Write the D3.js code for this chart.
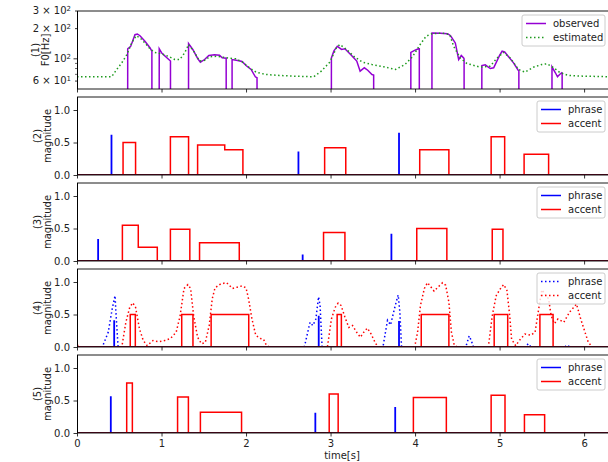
<!DOCTYPE html>
<html>
<head>
<meta charset="utf-8">
<script src="https://cdn.jsdelivr.net/npm/d3@7"></script>
<style>
  body { margin: 0; background: #fff; }
  svg { display: block; font-family: "DejaVu Sans", sans-serif; }
</style>
</head>
<body>
<div id="chart"></div>
<script>
// ---- data ----
// (1) F0 contours: [time s, Hz]; 0 means unvoiced
const observedF0 = [
  [0, 0], [0.598, 0], [0.600, 126], [0.635, 133], [0.686, 174], [0.714, 177], [0.745, 170], [0.804, 150], [0.863, 129], [0.886, 119], [0.888, 0],
  [0.971, 0], [0.973, 126], [1.0, 115], [1.05, 105], [1.106, 95], [1.108, 0],
  [1.318, 0], [1.32, 142], [1.37, 124], [1.43, 100], [1.46, 92.5], [1.51, 98.4], [1.56, 108], [1.627, 109.6], [1.686, 108.6], [1.718, 102.3], [1.765, 101.4], [1.767, 0],
  [1.833, 0], [1.835, 98.4], [1.90, 96.2], [1.953, 94], [2.0, 85.8], [2.06, 78.3], [2.11, 66.2], [2.13, 64.7], [2.132, 0],
  [3.008, 0], [3.01, 102], [3.04, 120], [3.08, 133], [3.13, 124], [3.17, 126], [3.24, 110], [3.31, 95], [3.35, 75.3], [3.40, 81.4], [3.44, 77], [3.49, 69.8], [3.51, 69], [3.512, 0],
  [3.948, 0], [3.95, 116], [4.0, 122], [4.04, 126], [4.05, 126], [4.052, 0],
  [4.198, 0], [4.20, 181], [4.30, 180], [4.385, 178], [4.42, 170], [4.476, 144], [4.516, 98.4], [4.547, 108], [4.575, 102], [4.58, 100], [4.582, 0],
  [4.788, 0], [4.79, 85.8], [4.83, 87.2], [4.89, 80], [4.93, 81.4], [5.0, 108], [5.03, 119], [5.06, 117], [5.106, 105], [5.165, 91.2], [5.22, 77], [5.228, 76], [5.23, 0],
  [5.618, 0], [5.62, 83.3], [5.66, 72.6], [5.685, 66.2], [5.71, 69.8], [5.736, 72.6], [5.74, 72], [5.742, 0], [6.33, 0]
];
const estimatedF0 = [
  [0, 66.2], [0.41, 66.2], [0.47, 78.3], [0.53, 91.2], [0.59, 110], [0.647, 144], [0.70, 170], [0.745, 162], [0.804, 144], [0.863, 126],
  [0.92, 116], [1.0, 112], [1.08, 106], [1.157, 98.4], [1.216, 98.4], [1.275, 115], [1.32, 139], [1.39, 116], [1.45, 95], [1.51, 96.5],
  [1.57, 105], [1.647, 106], [1.725, 104], [1.80, 101.4], [1.88, 100], [1.96, 92.5], [2.04, 81.4], [2.12, 73.6], [2.235, 69.8], [2.39, 68.3],
  [2.6, 67], [2.80, 66.2], [2.89, 75.3], [2.99, 92.5], [3.07, 129], [3.11, 139], [3.19, 124], [3.28, 105], [3.38, 92.5], [3.49, 87.8],
  [3.63, 83.3], [3.77, 78.3], [3.88, 87.8], [3.97, 105], [4.06, 139], [4.13, 168], [4.20, 178], [4.32, 181], [4.41, 174], [4.457, 133],
  [4.535, 102], [4.614, 89.8], [4.77, 82.5], [4.89, 84.5], [4.97, 102], [5.047, 116], [5.126, 102], [5.224, 78.3], [5.30, 73.6], [5.40, 82.5],
  [5.50, 87.8], [5.56, 89.2], [5.64, 81.4], [5.717, 72.6], [5.815, 68.3], [5.95, 67.3], [6.33, 66.2]
];

// phrase commands: [time, magnitude]; accent commands: [onset, offset, magnitude]
const phrase2 = [[0.408, 0.62], [2.62, 0.36], [3.81, 0.65]];
const accent2 = [[0.545, 0.693, 0.50], [1.105, 1.32, 0.59], [1.427, 1.748, 0.46], [1.748, 1.963, 0.39], [2.93, 3.18, 0.42], [4.055, 4.40, 0.39], [4.90, 5.06, 0.59], [5.29, 5.58, 0.32]];

const phrase3 = [[0.25, 0.34], [2.67, 0.10], [3.72, 0.42]];
const accent3 = [[0.537, 0.725, 0.55], [0.725, 0.95, 0.21], [1.105, 1.335, 0.49], [1.45, 1.92, 0.28], [2.917, 3.17, 0.44], [4.02, 4.376, 0.50], [4.913, 5.04, 0.49]];

const phrase4 = [[0.44, 0.41], [2.86, 0.48], [3.81, 0.40]];
const accent4 = [[0.63, 0.69, 0.5], [1.239, 1.372, 0.5], [1.587, 2.032, 0.5], [3.078, 3.128, 0.5], [4.073, 4.40, 0.5], [4.936, 5.096, 0.5], [5.477, 5.633, 0.5]];
// (4) likelihood curves: [time, value]
const phraseCurve4 = [
  [0, 0], [0.30, 0], [0.37, 0.23], [0.417, 0.59], [0.45, 0.79], [0.463, 0.48], [0.486, 0],
  [2.69, 0], [2.757, 0.38], [2.79, 0.33], [2.826, 0.43], [2.858, 0.77], [2.876, 0.64], [2.90, 0],
  [3.62, 0], [3.65, 0.23], [3.674, 0.41], [3.71, 0.34], [3.766, 0.64], [3.80, 0.80], [3.82, 0.54], [3.84, 0],
  [4.60, 0], [4.64, 0.17], [4.665, 0.1], [4.69, 0], [5.30, 0], [5.34, 0.05], [5.37, 0], [5.77, 0], [5.80, 0.03], [5.83, 0], [6.33, 0]
];
const accentCurve4 = [
  [0, 0.03], [0.05, 0], [0.53, 0], [0.578, 0.38], [0.624, 0.61], [0.66, 0.68], [0.693, 0.61], [0.739, 0.28], [0.784, 0.10], [0.83, 0.02],
  [0.9, 0.1], [0.968, 0.08], [1.037, 0.1], [1.105, 0.13], [1.174, 0.23], [1.22, 0.48], [1.266, 0.90], [1.312, 0.96], [1.344, 0.90], [1.38, 0.48],
  [1.427, 0.15], [1.472, 0.05], [1.518, 0.07], [1.564, 0.33], [1.60, 0.74], [1.633, 0.91], [1.70, 0.97], [1.77, 0.99], [1.84, 0.90], [1.894, 0.92],
  [1.954, 0.94], [2.0, 0.91], [2.03, 0.74], [2.07, 0.43], [2.115, 0.18], [2.17, 0.13], [2.206, 0.12], [2.24, 0.03], [2.275, 0],
  [2.963, 0], [3.01, 0.43], [3.055, 0.61], [3.09, 0.675], [3.124, 0.64], [3.17, 0.46], [3.216, 0.30], [3.26, 0.33], [3.307, 0.23], [3.353, 0.15],
  [3.40, 0.24], [3.436, 0.29], [3.48, 0.20], [3.527, 0.07], [3.56, 0],
  [3.995, 0], [4.03, 0.23], [4.064, 0.64], [4.11, 0.90], [4.147, 0.99], [4.19, 0.92], [4.225, 0.86], [4.27, 0.92], [4.326, 0.99], [4.362, 0.95],
  [4.40, 0.69], [4.43, 0.23], [4.463, 0.03], [4.5, 0],
  [4.867, 0], [4.913, 0.48], [4.96, 0.79], [5.02, 0.92], [5.05, 0.96], [5.087, 0.87], [5.12, 0.48], [5.142, 0.12], [5.19, 0.02], [5.234, 0.10],
  [5.30, 0.20], [5.37, 0.18], [5.42, 0.23], [5.463, 0.59], [5.50, 0.88], [5.58, 0.74], [5.61, 0.48], [5.65, 0.36], [5.69, 0.43], [5.76, 0.38],
  [5.83, 0.54], [5.91, 0.66], [5.96, 0.43], [6.05, 0.07], [6.1, 0], [6.33, 0]
];

const phrase5 = [[0.40, 0.565], [2.82, 0.31], [3.765, 0.40]];
const accent5 = [[0.588, 0.655, 0.77], [1.19, 1.318, 0.555], [1.46, 1.947, 0.32], [2.984, 3.09, 0.60], [3.98, 4.37, 0.545], [4.90, 5.064, 0.58], [5.294, 5.533, 0.28]];

// ticks and labels
const timeTicks = [0, 1, 2, 3, 4, 5, 6];
const magTicks = [0, 0.5, 1.0];
const f0Ticks = [60, 100, 200, 300];
const f0TickBase = ["6 × 10", "10", "2 × 10", "3 × 10"];
const f0TickExp = ["1", "2", "2", "2"];
const f0MinorTicks = [70, 80, 90];
const panelNames = ["(1)", "(2)", "(3)", "(4)", "(5)"];

// ---- layout ----
const width = 608, height = 462;
const left = 77, right = 612;
const panelTops = [11, 97, 183, 269, 355];
const panelH = 78;
const tMax = 6.33;
const blue = "#0000ff", red = "#ff0000";

const svg = d3.select("#chart").append("svg")
    .attr("width", width)
    .attr("height", height);

const x = d3.scaleLinear().domain([0, tMax]).range([left, right]);

// build polyline points for impulse / pulse commands (along zero elsewhere)
function impulsePoints(list) {
    const pts = [[0, 0]];
    list.forEach(d => { pts.push([d[0], 0], [d[0], d[1]], [d[0], 0]); });
    pts.push([tMax, 0]);
    return pts;
}
function pulsePoints(list) {
    const pts = [[0, 0]];
    list.forEach((d, i) => {
        const next = list[i + 1];
        if (i === 0 || list[i - 1][1] < d[0]) pts.push([d[0], 0]);
        pts.push([d[0], d[2]], [d[1], d[2]]);
        if (!next || next[0] > d[1]) pts.push([d[1], 0]);
    });
    pts.push([tMax, 0]);
    return pts;
}

function drawFrame(g, i, top) {
    // clip
    svg.append("clipPath").attr("id", "clip" + i)
        .append("rect").attr("x", left).attr("y", top).attr("width", right - left).attr("height", panelH);

    // x ticks
    const xAxis = d3.axisBottom(x).tickValues(timeTicks).tickSize(3.5).tickPadding(3.5)
        .tickFormat(i === 4 ? d3.format("d") : "");
    const ax = g.append("g").attr("transform", `translate(0,${top + panelH})`).call(xAxis);
    ax.select(".domain").remove();
    ax.selectAll("line").attr("stroke", "#000").attr("stroke-width", 0.8);
    ax.selectAll("text").attr("font-size", 10).attr("fill", "#222").attr("font-family", "DejaVu Sans");
}

function drawSpines(g, top) {
    g.append("line").attr("x1", left).attr("x2", right).attr("y1", top).attr("y2", top)
        .attr("stroke", "#000").attr("stroke-width", 0.9);
    g.append("line").attr("x1", left).attr("x2", right).attr("y1", top + panelH).attr("y2", top + panelH)
        .attr("stroke", "#000").attr("stroke-width", 0.9);
    g.append("line").attr("x1", left + 0.5).attr("x2", left + 0.5).attr("y1", top).attr("y2", top + panelH)
        .attr("stroke", "#000").attr("stroke-width", 1);
}

function drawYLabel(g, top, name, label, xa, xb) {
    const cy = top + panelH / 2;
    g.append("text").attr("transform", `translate(${xa},${cy}) rotate(-90)`)
        .attr("text-anchor", "middle").attr("font-size", 10).attr("fill", "#222").text(name);
    g.append("text").attr("transform", `translate(${xb},${cy}) rotate(-90)`)
        .attr("text-anchor", "middle").attr("font-size", 10).attr("fill", "#222").text(label);
}

function drawLegend(g, top, items, boxX, lineX, textX) {
    const boxW = 605 - boxX;
    const lg = g.append("g");
    lg.append("rect").attr("x", boxX).attr("y", top + 4).attr("width", boxW).attr("height", 31)
        .attr("rx", 2).attr("fill", "#fff").attr("fill-opacity", 0.8)
        .attr("stroke", "#cccccc").attr("stroke-width", 1);
    items.forEach((it, k) => {
        const yy = top + 12.5 + k * 14;
        lg.append("line").attr("x1", lineX).attr("x2", lineX + 20).attr("y1", yy).attr("y2", yy)
            .attr("stroke", it.color).attr("stroke-width", 1.5)
            .attr("stroke-dasharray", it.dash || null);
        lg.append("text").attr("x", textX).attr("y", yy).attr("dy", "0.35em")
            .attr("font-size", 10).attr("fill", "#222").text(it.label);
    });
}

// ---- panel 1: F0 ----
{
    const top = panelTops[0];
    const g = svg.append("g");
    drawFrame(g, 0, top);
    const y = d3.scaleLog().domain([50, 300]).range([top + panelH, top]);

    const plot = g.append("g").attr("clip-path", "url(#clip0)");
    const line = d3.line()
        .x(d => x(d[0]))
        .y(d => d[1] > 0 ? y(d[1]) : top + panelH + 300);

    plot.append("path").datum(observedF0).attr("d", line)
        .attr("fill", "none").attr("stroke", "#9400d3").attr("stroke-width", 1.5);
    plot.append("path").datum(estimatedF0).attr("d", line)
        .attr("fill", "none").attr("stroke", "#1e9a1e").attr("stroke-width", 1.5)
        .attr("stroke-dasharray", "1.5,2.5");

    // log ticks
    f0Ticks.forEach((v, k) => {
        const len = v === 100 ? 3.5 : 2;
        g.append("line").attr("x1", left - len).attr("x2", left).attr("y1", y(v)).attr("y2", y(v))
            .attr("stroke", "#000").attr("stroke-width", 0.8);
        const t = g.append("text").attr("x", 71).attr("y", y(v)).attr("dy", "0.32em")
            .attr("text-anchor", "end").attr("font-size", 10).attr("fill", "#222");
        t.append("tspan").text(f0TickBase[k]);
        t.append("tspan").attr("dy", "-0.45em").attr("font-size", 7).text(f0TickExp[k]);
    });
    f0MinorTicks.forEach(v => {
        g.append("line").attr("x1", left - 2).attr("x2", left).attr("y1", y(v)).attr("y2", y(v))
            .attr("stroke", "#000").attr("stroke-width", 0.6);
    });

    drawSpines(g, top);
    drawYLabel(g, top, panelNames[0], "F0[Hz]", 39, 49);
    drawLegend(g, top, [
        { label: "observed", color: "#9400d3" },
        { label: "estimated", color: "#1e9a1e", dash: "1.5,2.5" }
    ], 522, 526, 553);
}

// ---- panels 2..5: commands ----
const commandPanels = [
    { phrase: phrase2, accent: accent2 },
    { phrase: phrase3, accent: accent3 },
    { phrase: phrase4, accent: accent4, phraseCurve: phraseCurve4, accentCurve: accentCurve4 },
    { phrase: phrase5, accent: accent5 }
];

commandPanels.forEach((p, j) => {
    const i = j + 1;
    const top = panelTops[i];
    const g = svg.append("g");
    drawFrame(g, i, top);
    const y = d3.scaleLinear().domain([0, 1.2]).range([top + panelH, top]);

    const yAxis = d3.axisLeft(y).tickValues(magTicks).tickSize(3.5).tickPadding(3.5).tickFormat(d3.format(".1f"));
    const ay = g.append("g").attr("transform", `translate(${left},0)`).call(yAxis);
    ay.select(".domain").remove();
    ay.selectAll("line").attr("stroke", "#000").attr("stroke-width", 0.8);
    ay.selectAll("text").attr("font-size", 10).attr("fill", "#222").attr("font-family", "DejaVu Sans");

    const plot = g.append("g").attr("clip-path", `url(#clip${i})`);
    const line = d3.line().x(d => x(d[0])).y(d => y(d[1]));

    if (p.phraseCurve) {
        plot.append("path").datum(p.phraseCurve).attr("d", line)
            .attr("fill", "none").attr("stroke", blue).attr("stroke-width", 1.5).attr("stroke-dasharray", "1.5,2.5");
        plot.append("path").datum(p.accentCurve).attr("d", line)
            .attr("fill", "none").attr("stroke", red).attr("stroke-width", 1.5).attr("stroke-dasharray", "1.5,2.5");
    }
    plot.append("path").datum(impulsePoints(p.phrase)).attr("d", line)
        .attr("fill", "none").attr("stroke", blue).attr("stroke-width", 1.8);
    plot.append("path").datum(pulsePoints(p.accent)).attr("d", line)
        .attr("fill", "none").attr("stroke", red).attr("stroke-width", 1.5);
    // zero level where both lines overlap
    plot.append("line").attr("x1", x(0)).attr("x2", x(tMax)).attr("y1", y(0)).attr("y2", y(0))
        .attr("stroke", "#650a25").attr("stroke-width", 2.2);

    drawSpines(g, top);
    drawYLabel(g, top, panelNames[i], "magnitude", 40.5, 51);
    const dash = p.phraseCurve ? "1.5,2.5" : null;
    drawLegend(g, top, [
        { label: "phrase", color: blue, dash: dash },
        { label: "accent", color: red, dash: dash }
    ], 537, 541, 568);
});

// x label
svg.append("text").attr("x", (left + 607) / 2).attr("y", 459)
    .attr("text-anchor", "middle").attr("font-size", 10).attr("fill", "#222").text("time[s]");
</script>
</body>
</html>
